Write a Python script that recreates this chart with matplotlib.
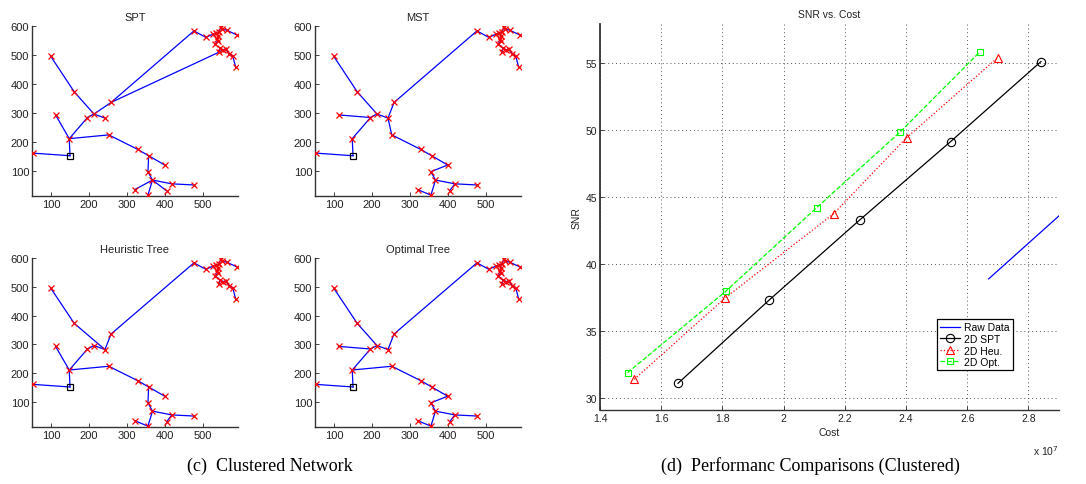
import matplotlib
matplotlib.use("Agg")
import matplotlib.pyplot as plt
from matplotlib.ticker import FuncFormatter

plt.rcParams['font.family'] = ['Liberation Sans', 'DejaVu Sans']

# ---------------- sensor network nodes (node 0 is the sink) ----------------
node_x = [150, 53, 148, 112, 99, 161, 196, 213, 242, 258,
          252, 328, 357, 399, 355, 367, 418, 477, 404, 320,
          355, 476, 507, 527, 535, 542, 547, 551, 563, 589,
          540, 537, 539, 532, 545, 553, 541, 560, 569, 578, 586]
node_y = [152, 161, 211, 293, 496, 373, 284, 296, 282, 336,
          224, 174, 152, 120, 97, 68, 55, 51, 31, 35,
          16, 583, 561, 572, 576, 579, 596, 590, 585, 569,
          566, 556, 549, 538, 523, 518, 509, 521, 503, 497, 457]

cluster_upper = [(21, 22), (22, 23), (23, 24), (24, 25), (25, 26), (26, 27),
                 (27, 28), (28, 29), (24, 30), (30, 31), (31, 32), (32, 33)]
cluster_lower = [(35, 37), (37, 38), (38, 39), (39, 40)]

spt_edges = [(0, 1), (0, 2), (2, 3), (2, 6), (6, 7), (7, 9), (7, 8), (5, 7),
             (4, 5), (2, 10), (9, 21), (9, 36), (36, 34), (36, 35),
             (10, 11), (11, 12), (12, 13), (12, 14), (14, 15), (15, 16),
             (16, 17), (15, 18), (15, 19), (15, 20)] + cluster_upper + cluster_lower
mst_edges = [(0, 1), (0, 2), (2, 6), (3, 6), (6, 7), (4, 5), (5, 7), (7, 8),
             (8, 9), (9, 21), (8, 10), (10, 11), (11, 12), (12, 13), (13, 14),
             (14, 15), (15, 16), (16, 17), (16, 18), (15, 20), (20, 19),
             (33, 34), (34, 35), (34, 36)] + cluster_upper + cluster_lower
heu_edges = [(0, 1), (0, 2), (2, 3), (2, 6), (6, 7), (7, 8), (4, 5), (5, 8),
             (8, 9), (9, 21), (2, 10), (10, 11), (11, 12), (12, 13), (12, 14),
             (14, 15), (15, 16), (16, 17), (16, 18), (15, 20), (20, 19),
             (33, 34), (34, 35), (34, 36)] + cluster_upper + cluster_lower
opt_edges = [(0, 1), (0, 2), (2, 6), (3, 6), (6, 7), (4, 5), (5, 7), (7, 8),
             (8, 9), (9, 21), (2, 10), (10, 11), (11, 12), (12, 13), (13, 14),
             (14, 15), (15, 16), (16, 17), (16, 18), (15, 20), (20, 19),
             (33, 34), (34, 35), (34, 36)] + cluster_upper + cluster_lower

tree_titles = ["SPT", "MST", "Heuristic Tree", "Optimal Tree"]
tree_edges = [spt_edges, mst_edges, heu_edges, opt_edges]
net_xticks = [100, 200, 300, 400, 500]
net_yticks = [100, 200, 300, 400, 500, 600]

# ---------------- SNR vs cost ----------------
raw_cost = [2.67e7, 2.90e7]
raw_snr = [38.9, 43.6]
spt_cost = [1.655e7, 1.953e7, 2.249e7, 2.546e7, 2.841e7]
spt_snr = [31.12, 37.33, 43.30, 49.14, 55.10]
heu_cost = [1.512e7, 1.810e7, 2.164e7, 2.402e7, 2.700e7]
heu_snr = [31.42, 37.50, 43.77, 49.43, 55.40]
opt_cost = [1.490e7, 1.811e7, 2.108e7, 2.382e7, 2.642e7]
opt_snr = [31.91, 37.98, 44.21, 49.88, 55.84]
cost_ticks = [1.4e7, 1.6e7, 1.8e7, 2.0e7, 2.2e7, 2.4e7, 2.6e7, 2.8e7]
snr_ticks = [30, 35, 40, 45, 50, 55]
legend_labels = ["Raw Data", "2D SPT", "2D Heu.", "2D Opt."]

W, H = 1086, 485
fig = plt.figure(figsize=(W / 100, H / 100), dpi=100)


def rect(l, t, r, b):
    return [l / W, 1 - b / H, (r - l) / W, (b - t) / H]


def matlab_axes(ax, fs):
    for side in ("top", "right"):
        ax.spines[side].set_visible(False)
    for side in ("left", "bottom"):
        ax.spines[side].set_color("#333333")
        ax.spines[side].set_linewidth(1.0)
    ax.tick_params(direction="in", length=3, width=0.6, labelsize=fs,
                   colors="#222222", pad=2)


net_rects = [rect(32, 27, 238, 197), rect(315, 27, 521, 197),
             rect(32, 259, 238, 428), rect(315, 259, 521, 428)]

for r, title, edges in zip(net_rects, tree_titles, tree_edges):
    ax = fig.add_axes(r)
    for a, b in edges:
        ax.plot([node_x[a], node_x[b]], [node_y[a], node_y[b]],
                color="#0000ff", lw=0.9, zorder=2)
    ax.plot(node_x[1:], node_y[1:], linestyle="none", marker="x",
            color="#ff0000", ms=4.5, mew=0.9, zorder=3)
    ax.plot([node_x[0]], [node_y[0]], linestyle="none", marker="s",
            mfc="none", mec="black", ms=5, mew=0.9, zorder=4)
    ax.set_xlim(50, 592)
    ax.set_ylim(13, 600)
    ax.set_xticks(net_xticks)
    ax.set_yticks(net_yticks)
    ax.set_title(title, fontsize=8, pad=4, color="#222222")
    matlab_axes(ax, 8)

# ---------------- right-hand comparison plot ----------------
ax = fig.add_axes(rect(600, 25, 1059, 411))
ax.plot(raw_cost, raw_snr, color="#0000ff", lw=0.9, label=legend_labels[0])
ax.plot(spt_cost, spt_snr, color="black", lw=0.9, marker="o", mfc="none",
        ms=6, mew=0.8, label=legend_labels[1])
ax.plot(heu_cost, heu_snr, color="#ff0000", lw=0.9, ls=":", marker="^",
        mfc="none", ms=6, mew=0.8, label=legend_labels[2])
ax.plot(opt_cost, opt_snr, color="#00ff00", lw=0.9, ls="--", marker="s",
        mfc="none", ms=5, mew=0.8, label=legend_labels[3])
ax.set_xlim(1.4e7, 2.9e7)
ax.set_ylim(29.13, 57.9)
ax.set_xticks(cost_ticks)
ax.set_yticks(snr_ticks)
ax.xaxis.set_major_formatter(FuncFormatter(lambda v, _: f"{v / 1e7:g}"))
ax.grid(True, linestyle=(0, (1, 3)), color="#555555", lw=0.7)
matlab_axes(ax, 7.5)
ax.spines["left"].set_linewidth(1.3)
ax.set_title("SNR vs. Cost", fontsize=7.5, pad=5, color="#222222")
ax.set_xlabel("Cost", fontsize=7.5, labelpad=3, color="#222222")
ax.set_ylabel("SNR", fontsize=7.5, labelpad=3, color="#222222")
ax.text(1.0, -0.085, "x 10$^{7}$", transform=ax.transAxes, fontsize=7.5,
        ha="right", va="top", color="#222222")
leg = ax.legend(loc="upper left", bbox_to_anchor=(0.734, 0.235), fontsize=7.5,
                frameon=True, fancybox=False, edgecolor="black", framealpha=1,
                handlelength=1.9, handletextpad=0.4, labelspacing=0.15,
                borderpad=0.3, borderaxespad=0)
leg.get_frame().set_linewidth(0.9)

# ---------------- sub-figure captions ----------------
fig.text(270 / W, 1 - 466 / H, "(c)  Clustered Network", fontsize=13,
         family="Liberation Serif", ha="center", va="center")
fig.text(810 / W, 1 - 466 / H, "(d)  Performanc Comparisons (Clustered)",
         fontsize=13, family="Liberation Serif", ha="center", va="center")

fig.savefig("out.png", dpi=100)
